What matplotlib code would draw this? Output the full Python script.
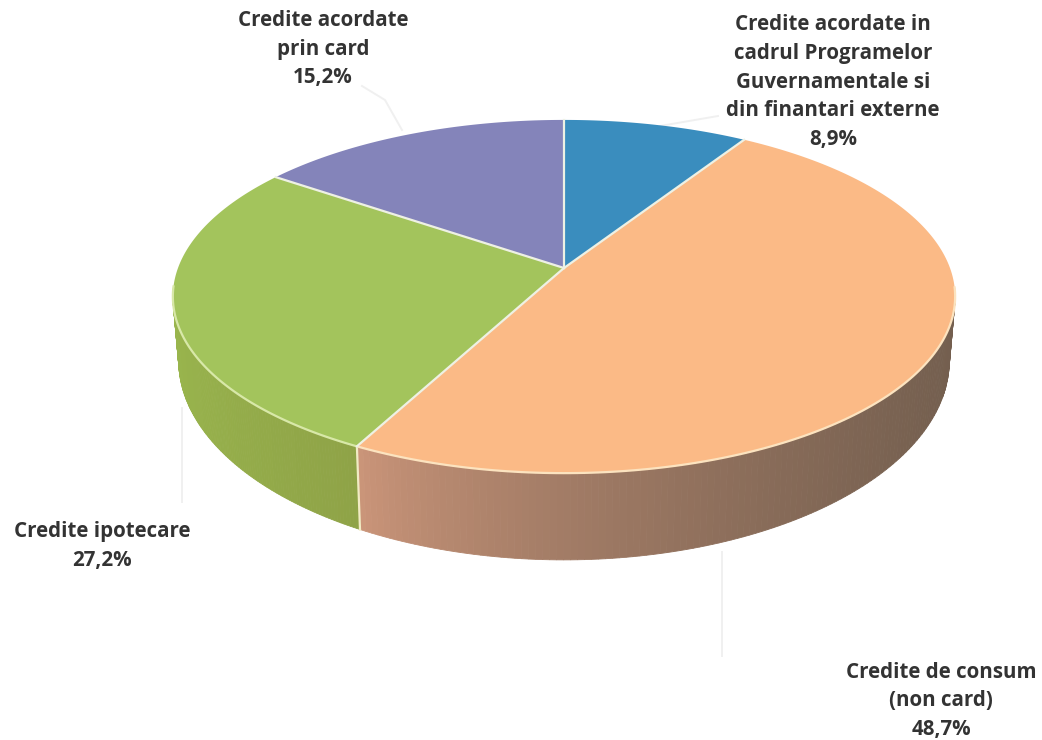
import numpy as np
import matplotlib
matplotlib.use('Agg')
import matplotlib.pyplot as plt

categories = ['Credite acordate in\ncadrul Programelor\nGuvernamentale si\ndin finantari externe',
              'Credite de consum\n(non card)',
              'Credite ipotecare',
              'Credite acordate\nprin card']
values = [8.9, 48.7, 27.2, 15.2]
top_colors = ['#3A8DBE', '#FBBA86', '#A3C45C', '#8484BA']
wall_left = ['#3A8DBE', '#CE977B', '#99B54D', '#8484BA']
wall_right = ['#3A8DBE', '#745F4F', '#8FA347', '#8484BA']
rim_colors = ['#CFE4F2', '#FCE3BF', '#D8E8A8', '#D8D8EC']

label_pos = [(833, 82), (941, 701), (102, 546), (323, 49)]
leaders = [[(660, 126), (718, 116)],
           [(722, 552), (722, 656)],
           [(182, 408), (182, 502)],
           [(402, 130), (385, 100), (362, 86)]]

# perspective of the pie, measured on the picture
cx, cy = 564, 268
sx, sy = 386, 172
k = 0.1615
depth = 61


def project(theta, r=1.0):
    x = r * np.sin(theta)
    y = r * np.cos(theta)
    w = 1 + k * y
    return cx + sx * x / w, cy - sy * y / w


def project_low(theta):
    x, y = project(theta)
    w = 1 + k * np.cos(theta)
    return cx + (x - cx) * 0.985, y + depth / w ** 2


fig = plt.figure(figsize=(10.42, 7.40), dpi=100)
ax = fig.add_axes([0, 0, 1, 1])
ax.set_xlim(0, 1042)
ax.set_ylim(740, 0)
ax.axis('off')

edges = np.radians(np.concatenate([[0], np.cumsum(values)]) / sum(values) * 360)

# side wall, front half only
for i in range(len(values)):
    t = np.linspace(edges[i], edges[i + 1], 200)
    t = t[np.cos(t) < -0.1]
    if len(t) == 0:
        continue
    x0, y0 = project(t)
    x1, y1 = project_low(t)
    c0 = np.array(matplotlib.colors.to_rgb(wall_left[i]))
    c1 = np.array(matplotlib.colors.to_rgb(wall_right[i]))
    lo, hi = x0.min(), x0.max()
    for j in range(len(t) - 1):
        f = ((x0[j] - lo) / (hi - lo)) ** 0.7
        ax.fill([x0[j], x0[j + 1], x1[j + 1], x1[j]],
                [y0[j], y0[j + 1], y1[j + 1], y1[j]],
                color=c1 * f + c0 * (1 - f), lw=0.6, zorder=2)

# pale seam on the wall between green and brown
xa, ya = project(edges[2])
xb, yb = project_low(edges[2])
ax.plot([xa, xb], [ya, yb], color='#F1EBC4', lw=1.6, zorder=3)

# top face
for i in range(len(values)):
    t = np.linspace(edges[i], edges[i + 1], 200)
    x, y = project(t)
    ax.fill(np.r_[cx, x], np.r_[cy, y], color=top_colors[i], lw=0, zorder=4)
    front = np.cos(t) < -0.1
    if front.any():
        ax.plot(x[front], y[front], color=rim_colors[i], lw=1.6, zorder=5)

# separators
for e in edges[:-1]:
    x, y = project(e)
    ax.plot([cx, x], [cy, y], color='#EEF1E4', lw=1.6, zorder=6)

for pts in leaders:
    xs, ys = zip(*pts)
    ax.plot(xs, ys, color='#F0F0F0', lw=1.4, zorder=1)

for name, val, (lx, ly) in zip(categories, values, label_pos):
    txt = name + '\n' + f'{val:.1f}'.replace('.', ',') + '%'
    ax.text(lx, ly, txt, ha='center', va='center', family='Open Sans',
            fontweight='bold', fontsize=14.8, color='#333333',
            linespacing=1.5, zorder=7)

fig.savefig('out.png', dpi=100)
